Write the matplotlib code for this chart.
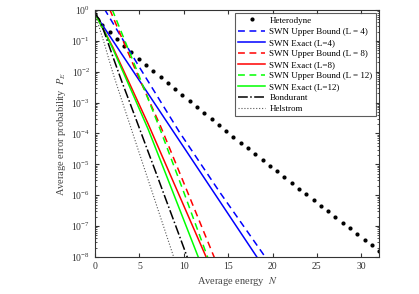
import numpy as np
import matplotlib
matplotlib.use('Agg')
import matplotlib.pyplot as plt
from matplotlib.ticker import LogLocator, NullFormatter, MultipleLocator

plt.rcParams['font.family'] = ['Liberation Serif', 'DejaVu Serif']
plt.rcParams['mathtext.fontset'] = 'stix'

# Heterodyne (dots)
het_n = [0.0, 0.82, 1.64, 2.46, 3.28, 4.10, 4.92, 5.74, 6.56, 7.38,
         8.21, 9.03, 9.85, 10.67, 11.49, 12.31, 13.13, 13.95, 14.77, 15.59,
         16.41, 17.23, 18.05, 18.87, 19.69, 20.51, 21.33, 22.15, 22.97, 23.79,
         24.62, 25.44, 26.26, 27.08, 27.90, 28.72, 29.54, 30.36, 31.18, 32.0]
het_p = [0.75, 0.332, 0.190, 0.113, 0.0688, 0.0423, 0.0263, 0.0165, 0.0104, 6.57e-3,
         4.17e-3, 2.66e-3, 1.70e-3, 1.09e-3, 7.02e-4, 4.52e-4, 2.91e-4, 1.88e-4, 1.22e-4, 7.88e-5,
         5.10e-5, 3.31e-5, 2.15e-5, 1.40e-5, 9.08e-6, 5.92e-6, 3.86e-6, 2.52e-6, 1.64e-6, 1.07e-6,
         7.0e-7, 4.56e-7, 3.0e-7, 1.96e-7, 1.28e-7, 8.4e-8, 5.5e-8, 3.6e-8, 2.36e-8, 1.54e-8]

# SWN L=4
ub4_n = [0, 1.13, 5, 9.5, 14, 18.93, 20]
ub4_p = [3.55, 1.0, 0.0141, 1.12e-4, 1.32e-6, 1.26e-8, 4.5e-9]
ex4_n = [0, 2, 4, 6, 8, 10, 12, 14, 16, 18, 19]
ex4_p = [0.75, 0.1026, 0.01403, 1.92e-3, 2.62e-4, 3.59e-5, 4.91e-6, 6.71e-7, 9.18e-8, 1.26e-8, 4.65e-9]

# SWN L=8
ub8_n = [0, 1.69, 4.5, 7.48, 10.5, 13.23, 14]
ub8_p = [14.1, 1.0, 0.0126, 1.48e-4, 1.12e-6, 1.35e-8, 4.0e-9]
ex8_n = [0, 1, 2, 4, 6, 8, 10, 12, 13]
ex8_p = [0.75, 0.224, 0.063, 3.55e-3, 2.0e-4, 9.55e-6, 4.57e-7, 2.19e-8, 4.8e-9]

# SWN L=12
ub12_n = [0, 1.96, 4.5, 7.29, 10, 12.55, 13]
ub12_p = [25.0, 1.0, 0.0158, 1.48e-4, 1.26e-6, 1.26e-8, 5.6e-9]
ex12_n = [0, 1, 2, 4, 6, 8, 10, 11.6, 12]
ex12_p = [0.75, 0.219, 0.0562, 2.82e-3, 1.35e-4, 4.68e-6, 1.58e-7, 1.05e-8, 5.4e-9]

# Bondurant and Helstrom
bon_n = [0, 0.5, 1, 2, 3, 4, 5, 6, 7, 8, 9, 10, 10.5]
bon_p = [0.75, 0.5, 0.209, 0.0316, 5.0e-3, 8.7e-4, 1.48e-4, 2.5e-5, 4.27e-6, 7.1e-7, 1.2e-7, 2.0e-8, 8.1e-9]
hel_n = [0, 0.5, 1, 1.5, 2, 2.5, 3, 4, 5, 6, 7, 8, 9]
hel_p = [0.75, 0.262, 0.0924, 0.0293, 9.52e-3, 3.4e-3, 1.24e-3, 1.68e-4, 2.27e-5, 3.07e-6, 4.16e-7, 5.63e-8, 7.6e-9]

fig = plt.figure(figsize=(4.19, 2.94), dpi=100, facecolor='w')
ax = fig.add_axes([0.2267, 0.126, 0.678, 0.840])

lw = 1.1
ax.semilogy(het_n, het_p, 'k.', ms=4, label='Heterodyne')
ax.semilogy(ub4_n, ub4_p, '--', color='b', lw=lw, dashes=(4.5, 3), label='SWN Upper Bound (L = 4)')
ax.semilogy(ex4_n, ex4_p, '-', color='b', lw=lw, label='SWN Exact (L=4)')
ax.semilogy(ub8_n, ub8_p, '--', color='r', lw=lw, dashes=(4.5, 3), label='SWN Upper Bound (L = 8)')
ax.semilogy(ex8_n, ex8_p, '-', color='r', lw=lw, label='SWN Exact (L=8)')
ax.semilogy(ub12_n, ub12_p, '--', color='#00ff00', lw=lw, dashes=(4.5, 3), label='SWN Upper Bound (L = 12)')
ax.semilogy(ex12_n, ex12_p, '-', color='#00ff00', lw=lw, label='SWN Exact (L=12)')
ax.semilogy(bon_n, bon_p, '-.', color='k', lw=lw, label='Bondurant')
ax.semilogy(hel_n, hel_p, ':', color='#555555', lw=0.8, label='Helstrom')

ax.set_xlim(0, 32)
ax.set_ylim(1e-8, 1)
ax.xaxis.set_major_locator(MultipleLocator(5))
ax.yaxis.set_major_locator(LogLocator(base=10, numticks=20))
ax.yaxis.set_minor_locator(LogLocator(base=10, subs=np.arange(2, 10), numticks=20))
ax.yaxis.set_minor_formatter(NullFormatter())
ax.tick_params(which='both', direction='in', top=True, right=True, labelsize=7, colors='#333333')
ax.tick_params(which='major', length=3)
ax.tick_params(which='minor', length=1.5)
for s in ax.spines.values():
    s.set_color('#333333')
    s.set_linewidth(0.8)

ax.set_xlabel('Average energy  $N$', fontsize=7.5, color='#444444', labelpad=3)
ax.set_ylabel('Average error probability  $P_E$', fontsize=7.5, color='#444444', labelpad=2)

leg = ax.legend(loc='upper right', fontsize=6.5, frameon=True, fancybox=False,
                edgecolor='#333333', handlelength=3.0, handletextpad=0.45,
                labelspacing=0.3, borderpad=0.35, borderaxespad=0.35, numpoints=1)
leg.get_frame().set_linewidth(0.8)

fig.savefig('out.png', dpi=100)
